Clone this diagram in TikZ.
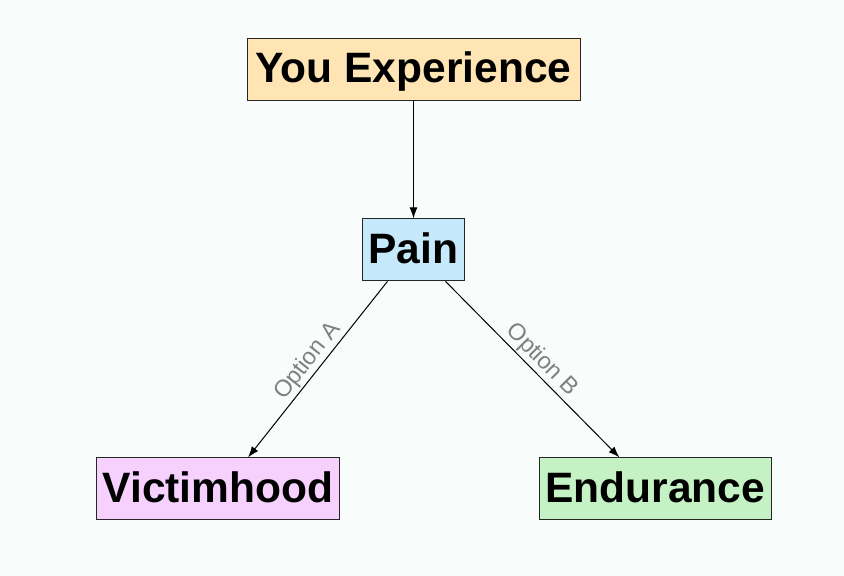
\documentclass[tikz,border=0pt]{standalone}
\usepackage{fontspec}
\setmainfont{Liberation Sans}
\usetikzlibrary{arrows.meta, positioning}
\usepackage{xcolor}
\definecolor{bgMint}{RGB}{248,253,251}
\definecolor{peachBox}{RGB}{255,229,180}
\definecolor{blueBox}{RGB}{197,232,250}
\definecolor{pinkBox}{RGB}{246,209,253}
\definecolor{greenBox}{RGB}{196,242,196}
\definecolor{labelGray}{RGB}{128,128,128}

\begin{document}
\begin{tikzpicture}[
    box/.style={rectangle, draw=black!85, line width=0.9pt, minimum height=62pt, inner xsep=5pt, text height=30pt, text depth=3pt, align=center, font=\fontsize{42.5}{50}\selectfont\bfseries},
    optlabel/.style={sloped, above, inner sep=1.5pt, text=labelGray, font=\fontsize{23.5}{28}\selectfont},
    >={Latex[length=11pt, width=8pt]}
]
% background and margins
\fill[bgMint] (-413.5pt,69pt) rectangle (430.5pt,-507pt);
\useasboundingbox (-413.5pt,69pt) rectangle (430.5pt,-507pt);

\node[box, fill=peachBox, minimum width=333pt] (exp) {You Experience};
\node[box, fill=blueBox, minimum width=102pt, below=118pt of exp] (pain) {Pain};

\node[box, fill=pinkBox, minimum width=243pt, below left=176pt and 22pt of pain] (victim) {Victimhood};
\node[box, fill=greenBox, minimum width=232pt, below right=176pt and 74pt of pain] (endure) {Endurance};

\draw[->, line width=1pt] (exp) -- (pain);
\draw[->, line width=1pt] ([xshift=-26pt]pain.south) -- node[optlabel] {Option A} ([xshift=30pt]victim.north);
\draw[->, line width=1pt] ([xshift=32pt]pain.south) -- node[optlabel] {Option B} ([xshift=-36pt]endure.north);
\end{tikzpicture}
\end{document}
